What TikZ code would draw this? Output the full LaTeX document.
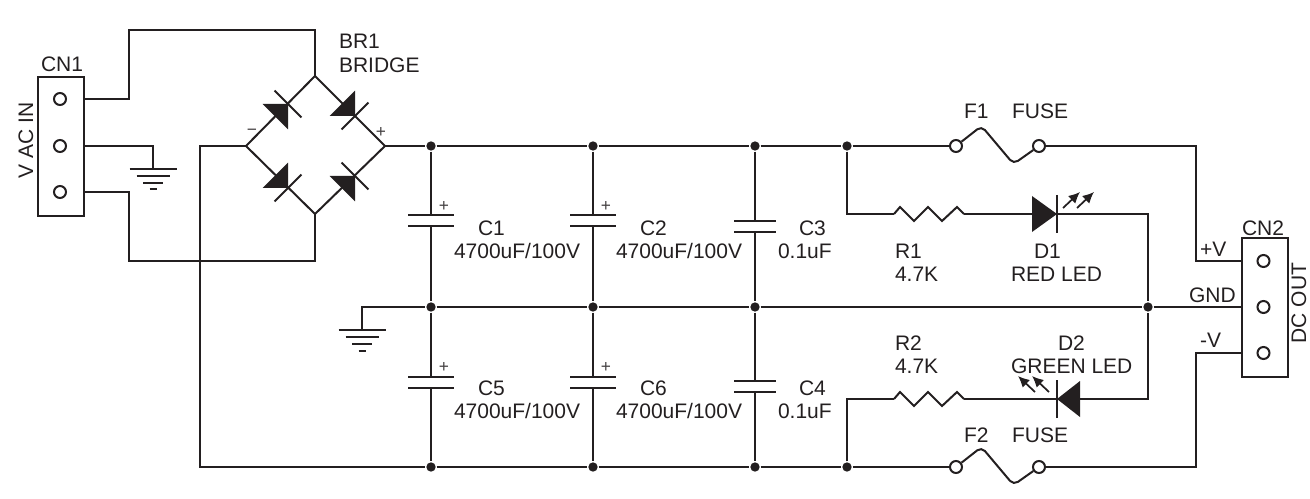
\documentclass[tikz,border=0pt]{standalone}
\usepackage{fontspec}
\setmainfont{Liberation Sans}
\usetikzlibrary{arrows.meta}
\definecolor{ink}{HTML}{231F20}
\begin{document}
\begin{tikzpicture}[
		x=0.75pt, y=-0.75pt, color=ink, line width=1.5pt,
		lbl/.style={anchor=base west, inner sep=0pt, font=\fontsize{15.75}{18}\selectfont},
		side/.style={lbl, anchor=base, rotate=90},
		sign/.style={inner sep=0pt, text=ink!85, font=\fontsize{13}{14}\selectfont},
		dot/.style={circle, fill=ink, inner sep=0pt, minimum size=7pt},
		pin/.style={circle, draw=ink, fill=white, inner sep=0pt, minimum size=9pt},
		conn/.style={draw=ink, inner sep=0pt, outer sep=0pt, minimum width=34.5pt, minimum height=104pt},
		pics/cap/.style={code={
			\draw (-#1,-5.5) -- (#1,-5.5);
			\draw (-#1,5.5) -- (#1,5.5);
			\coordinate (-t) at (0,-5.5);
			\coordinate (-b) at (0,5.5);
		}},
		pics/diode/.style={code={
			\fill[ink] (0,0) -- (-#1,-18) -- (-#1,18) -- cycle;
			\draw (0,-19) -- (0,19);
			\coordinate (-a) at (-#1,0);
			\coordinate (-k) at (0,0);
		}},
		pics/res/.style={code={
			\draw (-35,0) -- (-29,-7) -- (-15,7) -- (-1,-7) -- (13,7) -- (28,-7) -- (35,0);
			\coordinate (-w) at (-35,0);
			\coordinate (-e) at (35,0);
		}},
		pics/fuse/.style={code={
			\node[pin] (-w) at (-41.5,0) {};
			\node[pin] (-e) at (41.5,0) {};
			\draw[rounded corners=4pt] (-w) -- (-16,-20) -- (16,18) -- (-e);
		}},
		pics/earth/.style={code={
			\draw (-23.5,0) -- (23.5,0);
			\draw (-16.5,7) -- (16.5,7);
			\draw (-10,14) -- (10,14);
			\draw (-3.5,20.5) -- (3.5,20.5);
			\coordinate (-t) at (0,0);
		}},
		pics/glow/.style={code={
			\draw[line width=1.3pt, -{Latex[length=8.5pt,width=8pt]}] (0,0) -- (17,-16);
			\draw[line width=1.3pt, -{Latex[length=8.5pt,width=8pt]}] (14,0) -- (31,-16);
		}},
	]
	\useasboundingbox (0,0) rectangle (1310,499);

	% connectors
	\node (CN1) [conn] at (61,146.5) {};
	\node (CN2) [conn] at (1265,307.5) {};
	\node (pa) [pin] at (60,99) {};
	\node (pb) [pin] at (60,146) {};
	\node (pc) [pin] at (60,192) {};
	\node (pd) [pin] at (1263.5,261) {};
	\node (pe) [pin] at (1263.5,307) {};
	\node (pf) [pin] at (1263.5,353) {};

	% bridge
	\coordinate (brT) at (315,76);
	\coordinate (brL) at (246,146);
	\coordinate (brR) at (385,146);
	\coordinate (brB) at (315,214);
	\draw (brL) -- (brT) -- (brR) -- (brB) -- cycle;
	\pic[rotate=45] (dTL) at (288,104) {diode=18};
	\pic[rotate=-45] (dTR) at (355,116) {diode=18};
	\pic[rotate=-45] (dBL) at (288,188) {diode=18};
	\pic[rotate=45] (dBR) at (355,176) {diode=18};

	% junctions
	\foreach \name/\xp in {a/431, b/593, c/755, d/847} {
		\node (top\name) [dot] at (\xp,146) {};
		\node (bot\name) [dot] at (\xp,467) {};
	}
	\foreach \name/\xp in {a/431, b/593, c/755, d/1148} {
		\node (mid\name) [dot] at (\xp,307) {};
	}
	\coordinate (botL) at (200,467);

	% capacitors
	\pic (C1) at (431,220.5) {cap=23};
	\pic (C2) at (593,220.5) {cap=23};
	\pic (C3) at (755,226) {cap=21};
	\pic (C5) at (431,382.5) {cap=23};
	\pic (C6) at (593,382.5) {cap=23};
	\pic (C4) at (755,386.5) {cap=21};
	\foreach \name/\cap/\rail in {a/C1/top, b/C2/top, c/C3/top} {
		\draw (\rail\name) -- (\cap-t);
		\draw (\cap-b) -- (mid\name);
	}
	\foreach \name/\cap in {a/C5, b/C6, c/C4} {
		\draw (mid\name) -- (\cap-t);
		\draw (\cap-b) -- (bot\name);
	}

	% rest of the parts
	\pic (G1) at (153,169) {earth};
	\pic (G2) at (362,330) {earth};
	\pic (F1) at (997.5,146) {fuse};
	\pic (F2) at (997.5,467) {fuse};
	\pic (R1) at (929,214) {res};
	\pic (R2) at (929,399) {res};
	\pic (D1) at (1057,214) {diode=25};
	\pic[rotate=180] (D2) at (1057,399) {diode=23};
	\pic at (1063,208) {glow};
	\pic[xscale=-1] at (1049,392) {glow};

	% wires
	\draw (CN1.east |- pa) -- ++(45,0) -- ++(0,-69) -| (brT);
	\draw (CN1.east |- pb) -| (G1-t);
	\draw (CN1.east |- pc) -- ++(45,0) -- ++(0,69) -| (brB);
	\draw (brL) -| (botL) -- (bota) -- (botb) -- (botc) -- (botd) -- (F2-w);
	\draw (brR) -- (topa) -- (topb) -- (topc) -- (topd) -- (F1-w);
	\draw (G2-t) |- (mida) -- (midb) -- (midc) -- (midd) -- (CN2.west |- midd);
	\coordinate (tV) at (1196,261);
	\coordinate (tN) at (1196,353);
	\draw (F1-e) -| (tV) -- (CN2.west |- pd);
	\draw (F2-e) -| (tN) -- (CN2.west |- pf);
	\draw (topd) |- (R1-w);
	\draw (R1-e) -- (D1-a);
	\draw (D1-k) -| (midd);
	\draw (botd) |- (R2-w);
	\draw (R2-e) -- (D2-k);
	\draw (D2-a) -| (midd);

	% labels
	\node (tCN1) [lbl] at (40,72) {CN1};
	\node (tVAC) [side] at (33,140.5) {V AC IN};
	\node (tBR1) [lbl] at (338,49) {BR1};
	\node (tBRI) [lbl] at (338,73) {BRIDGE};
	\node (sL) [sign] at (252,132) {−};
	\node (sR) [sign] at (381,132) {+};
	\foreach \xp/\yp in {444/206, 606/206, 444/367, 606/367} {
		\node [sign] at (\xp,\yp) {+};
	}
	\foreach \xp/\yp/\ref in {477/235/C1, 639/235/C2, 477/395/C5, 639/395/C6} {
		\node [lbl] at (\xp,\yp) {\ref};
		\node [lbl] at (\xp-24,\yp+23) {4700uF/100V};
	}
	\foreach \yp/\ref in {235/C3, 395/C4} {
		\node [lbl] at (798,\yp) {\ref};
		\node [lbl] at (777,\yp+23) {0.1uF};
	}
	\node (tF1) [lbl] at (963,119) {F1};
	\node (tFU1) [lbl] at (1011,119) {FUSE};
	\node (tF2) [lbl] at (963,442) {F2};
	\node (tFU2) [lbl] at (1011,442) {FUSE};
	\node (tR1) [lbl] at (894,258) {R1};
	\node (vR1) [lbl] at (894,281) {4.7K};
	\node (tD1) [lbl] at (1033,258) {D1};
	\node (vD1) [lbl] at (1010,281) {RED LED};
	\node (tR2) [lbl] at (894,350) {R2};
	\node (vR2) [lbl] at (894,373) {4.7K};
	\node (tD2) [lbl] at (1057,350) {D2};
	\node (vD2) [lbl] at (1010,373) {GREEN LED};
	\node (tCN2) [lbl] at (1241,235) {CN2};
	\node (tpV) [lbl] at (1199,256) {+V};
	\node (tGND) [lbl] at (1188,302) {GND};
	\node (tnV) [lbl] at (1199,347) {-V};
	\node (tDC) [side] at (1306,303) {DC OUT};
\end{tikzpicture}
\end{document}
